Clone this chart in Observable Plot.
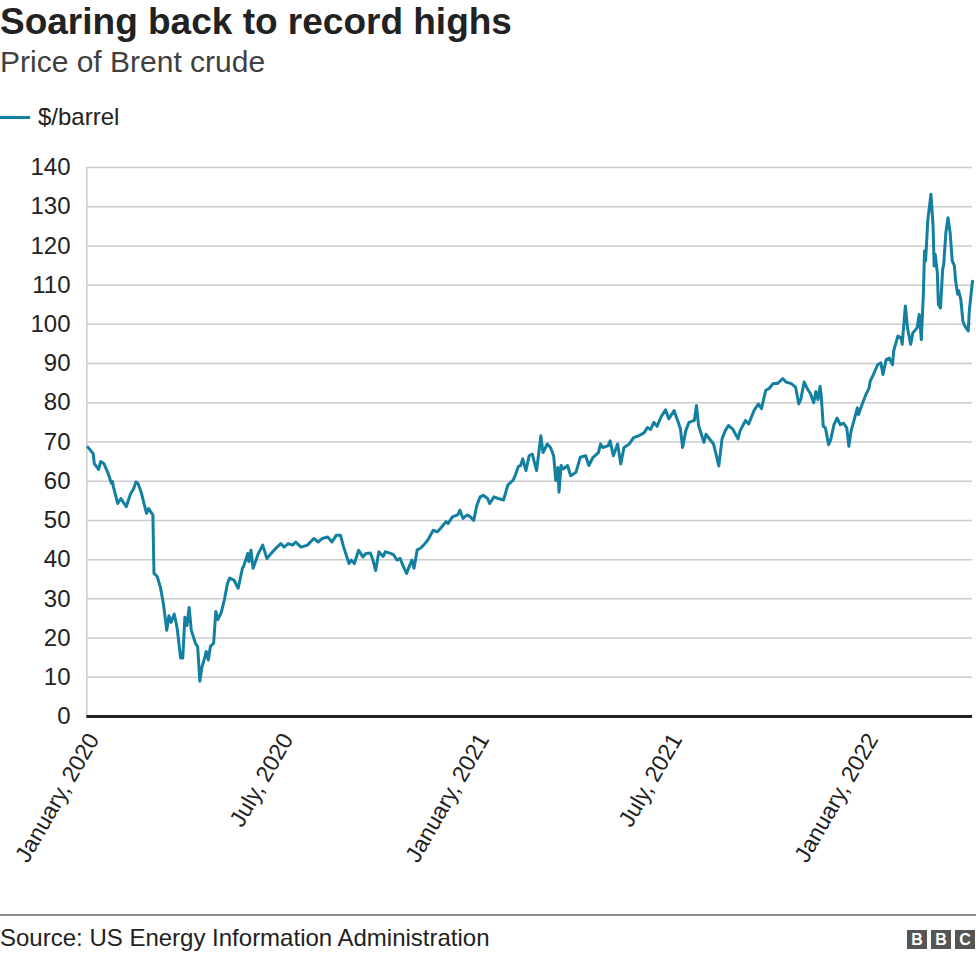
<!DOCTYPE html>
<html>
<head>
<meta charset="utf-8">
<script src="https://cdn.jsdelivr.net/npm/d3@7"></script>
<script src="https://cdn.jsdelivr.net/npm/@observablehq/plot@0.6"></script>
<style>
  body { margin: 0; background: #fff; font-family: "Liberation Sans", Arial, Helvetica, sans-serif; color: #222; }
  #wrap { position: relative; width: 976px; height: 959px; overflow: hidden; background: #fff; }
  #title { position: absolute; left: 0; top: 3px; font-size: 37px; line-height: 37px; font-weight: bold; color: #222; white-space: nowrap; }
  #subtitle { position: absolute; left: 0; top: 47px; font-size: 30px; line-height: 30px; color: #404040; white-space: nowrap; }
  #legend { position: absolute; left: 0; top: 104px; font-size: 24px; line-height: 26px; color: #222; white-space: nowrap; display: flex; align-items: center; }
  #legend .sw { display: inline-block; width: 30px; height: 3px; background: #1380A1; margin-right: 8px; }
  #chart { position: absolute; left: 0; top: 140px; }
  #footer-line { position: absolute; left: 0; top: 914px; width: 976px; height: 2px; background: #8c8c8c; }
  #source { position: absolute; left: 0; top: 926px; font-size: 24px; line-height: 24px; color: #222; white-space: nowrap; }
  #bbc { position: absolute; right: 1px; top: 930px; display: flex; gap: 4px; }
  #bbc span { display: inline-block; width: 20px; height: 19px; background: #555; color: #fff; font-weight: bold; font-size: 16px; line-height: 19px; text-align: center; }
</style>
</head>
<body>
<div id="wrap">
  <div id="title">Soaring back to record highs</div>
  <div id="subtitle">Price of Brent crude</div>
  <div id="legend"><span class="sw"></span><span id="legend-label"></span></div>
  <div id="chart"></div>
  <div id="footer-line"></div>
  <div id="source">Source: US Energy Information Administration</div>
  <div id="bbc"><span>B</span><span>B</span><span>C</span></div>
</div>
<script>
const seriesName = "$/barrel";
const dates = [
"2020-01-07","2020-01-12","2020-01-13","2020-01-17","2020-01-19","2020-01-22","2020-01-26","2020-01-29","2020-01-30","2020-01-31",
"2020-02-04","2020-02-07","2020-02-12","2020-02-16","2020-02-19","2020-02-21","2020-02-23","2020-02-26","2020-02-28",
"2020-03-02","2020-03-04","2020-03-06","2020-03-08","2020-03-09","2020-03-12","2020-03-15","2020-03-17","2020-03-18","2020-03-21","2020-03-23","2020-03-25","2020-03-28","2020-03-30","2020-03-31",
"2020-04-03","2020-04-05","2020-04-07","2020-04-09","2020-04-11","2020-04-13","2020-04-15","2020-04-17","2020-04-19","2020-04-21","2020-04-23","2020-04-25","2020-04-27","2020-04-29",
"2020-05-01","2020-05-04","2020-05-06","2020-05-08","2020-05-11","2020-05-14","2020-05-17","2020-05-19","2020-05-23","2020-05-27","2020-05-31",
"2020-06-01","2020-06-05","2020-06-06","2020-06-08","2020-06-10","2020-06-15","2020-06-19","2020-06-23","2020-06-27",
"2020-07-01","2020-07-06","2020-07-09","2020-07-13","2020-07-17","2020-07-20","2020-07-25","2020-07-31",
"2020-08-06","2020-08-10","2020-08-14","2020-08-19","2020-08-23","2020-08-27","2020-08-31",
"2020-09-03","2020-09-08","2020-09-10","2020-09-13","2020-09-17","2020-09-21","2020-09-24","2020-09-28","2020-09-30",
"2020-10-03","2020-10-06","2020-10-10","2020-10-12","2020-10-17","2020-10-20","2020-10-23","2020-10-26","2020-10-29",
"2020-11-01","2020-11-04","2020-11-06","2020-11-08","2020-11-11","2020-11-14","2020-11-17","2020-11-21","2020-11-26","2020-11-30",
"2020-12-03","2020-12-08","2020-12-10","2020-12-14","2020-12-19","2020-12-21","2020-12-24","2020-12-28","2020-12-31",
"2021-01-03","2021-01-06","2021-01-09","2021-01-12","2021-01-16","2021-01-18","2021-01-22","2021-01-26","2021-01-31",
"2021-02-04","2021-02-09","2021-02-11","2021-02-14","2021-02-16","2021-02-18","2021-02-21","2021-02-24","2021-02-27",
"2021-03-03","2021-03-07","2021-03-09","2021-03-13","2021-03-16","2021-03-19","2021-03-21","2021-03-23","2021-03-24","2021-03-26","2021-03-28",
"2021-04-01","2021-04-04","2021-04-09","2021-04-13","2021-04-18","2021-04-21","2021-04-25","2021-04-30",
"2021-05-02","2021-05-04","2021-05-09","2021-05-11","2021-05-14","2021-05-18","2021-05-21","2021-05-24","2021-05-29",
"2021-06-02","2021-06-07","2021-06-12","2021-06-15","2021-06-18","2021-06-21","2021-06-24","2021-06-28",
"2021-07-02","2021-07-05","2021-07-10","2021-07-14","2021-07-16","2021-07-18","2021-07-21","2021-07-24","2021-07-29","2021-07-31",
"2021-08-02","2021-08-04","2021-08-07","2021-08-09","2021-08-11","2021-08-16","2021-08-21","2021-08-24","2021-08-27","2021-08-30",
"2021-09-03","2021-09-08","2021-09-10","2021-09-15","2021-09-18","2021-09-23","2021-09-27","2021-09-30",
"2021-10-04","2021-10-07","2021-10-11","2021-10-15","2021-10-20","2021-10-23","2021-10-28",
"2021-11-01","2021-11-04","2021-11-06","2021-11-09","2021-11-12","2021-11-15","2021-11-18","2021-11-20","2021-11-22","2021-11-24","2021-11-25","2021-11-27","2021-11-29",
"2021-12-02","2021-12-04","2021-12-07","2021-12-10","2021-12-13","2021-12-16","2021-12-19","2021-12-21","2021-12-23","2021-12-26","2021-12-29","2021-12-30",
"2022-01-03","2022-01-06","2022-01-09","2022-01-10","2022-01-13","2022-01-17","2022-01-20","2022-01-22","2022-01-25","2022-01-28","2022-01-31",
"2022-02-01","2022-02-05","2022-02-08","2022-02-09","2022-02-12","2022-02-14","2022-02-17","2022-02-19","2022-02-23","2022-02-25","2022-02-27",
"2022-03-01","2022-03-02","2022-03-03","2022-03-05","2022-03-08","2022-03-10","2022-03-11","2022-03-12","2022-03-14","2022-03-15","2022-03-17","2022-03-19","2022-03-20","2022-03-22","2022-03-24","2022-03-26","2022-03-28","2022-03-30","2022-03-31",
"2022-04-02","2022-04-03","2022-04-05","2022-04-07","2022-04-09","2022-04-12","2022-04-13","2022-04-15","2022-04-16"
];
const prices = [
68.7,67.0,64.5,63.0,65.0,64.5,62.0,59.5,60.0,58.5,
54.3,55.6,53.5,56.8,58.1,59.8,59.4,57.2,55.0,
51.8,53.0,52.2,51.4,36.5,35.7,33.0,30.0,28.4,22.0,25.7,24.0,26.1,23.6,22.0,
14.9,14.9,25.3,23.2,27.8,22.0,20.3,18.6,17.8,9.0,12.6,14.4,16.6,14.4,
17.9,18.7,26.8,24.7,26.4,29.7,34.0,35.3,34.8,32.7,37.8,
38.2,41.6,39.5,42.4,37.8,41.6,43.7,40.3,41.6,
42.8,44.1,43.2,44.1,43.7,44.5,43.2,43.7,
45.4,44.5,45.4,45.8,44.5,46.2,46.2,
43.2,39.0,39.9,39.0,42.4,40.7,41.6,41.7,40.3,
37.2,42.0,40.8,42.0,41.6,41.2,39.9,40.3,38.2,
36.5,38.6,39.9,37.8,42.5,42.9,43.7,45.0,47.5,47.1,
48.0,49.7,49.2,50.9,51.4,52.6,50.5,51.4,50.9,
50.0,53.9,56.0,56.4,55.6,54.3,56.0,55.6,55.2,
59.0,60.3,61.5,63.8,64.0,65.7,62.7,66.5,66.9,
62.7,71.6,67.3,69.5,68.6,66.5,60.2,63.5,57.2,64.0,63.1,
64.0,61.4,62.3,66.1,66.5,64.0,66.1,67.3,
69.5,68.6,69.0,70.3,66.5,69.5,64.4,68.6,69.5,
71.1,71.6,72.4,73.7,73.2,75.0,74.0,76.5,
78.2,75.9,78.0,75.0,73.3,68.6,72.9,75.0,75.5,79.3,
74.2,72.5,69.9,72.0,71.2,69.5,63.9,70.8,72.9,74.2,
73.3,70.8,72.9,75.5,74.6,78.0,79.7,78.5,
83.2,83.6,84.9,84.9,86.2,85.3,84.9,
84.0,79.7,81.0,85.3,83.6,82.3,80.0,82.9,80.8,84.2,82.0,74.0,73.6,
69.3,70.6,74.4,76.1,74.4,74.8,73.6,68.9,72.7,75.7,78.7,77.0,
80.0,82.1,83.8,85.5,87.2,89.7,90.2,87.2,91.0,91.4,89.7,
93.2,97.0,96.6,94.9,104.7,99.1,94.9,97.8,99.1,102.5,96.1,
108.5,118.7,116.2,126.4,133.2,125.1,114.9,117.9,113.2,105.1,104.2,114.0,115.3,123.4,127.2,123.4,116.2,115.0,111.5,
107.7,108.6,106.4,100.8,99.5,98.3,103.4,108.6,111.0
];
const yTicks = [0,10,20,30,40,50,60,70,80,90,100,110,120,130,140];
const xTickDates = ["2020-01-01","2020-07-01","2021-01-01","2021-07-01","2022-01-01"];
const xTickLabels = ["January, 2020","July, 2020","January, 2021","July, 2021","January, 2022"];

document.getElementById("legend-label").textContent = seriesName;

const data = dates.map((d, i) => ({date: new Date(d), price: prices[i]}));
const tickDates = xTickDates.map(d => new Date(d));
const startDate = new Date("2020-01-06");
const endDate = new Date("2022-04-16");

const chart = Plot.plot({
  width: 976,
  height: 760,
  marginLeft: 81,
  marginRight: 4,
  marginTop: 27,
  marginBottom: 184,
  x: {type: "utc", domain: [new Date("2020-01-01"), endDate]},
  y: {domain: [0, 140]},
  style: {fontFamily: "'Liberation Sans', Arial, Helvetica, sans-serif", fontSize: "24px", color: "#222", background: "#fff", overflow: "visible"},
  marks: [
    Plot.ruleY(yTicks.filter(v => v > 0), {x1: startDate, x2: endDate, stroke: "#cccccc", strokeWidth: 1.5}),
    Plot.ruleX([startDate], {y1: 0, y2: 140, stroke: "#cccccc", strokeWidth: 1.5}),
    Plot.axisY({ticks: yTicks, tickSize: 0, tickPadding: 11, label: null, fontSize: 24}),
    Plot.axisX({
      ticks: tickDates,
      tickFormat: d => xTickLabels[tickDates.findIndex(t => +t === +d)],
      tickRotate: -60, tickSize: 0, tickPadding: 19, label: null, fontSize: 23, dx: 12
    }),
    Plot.lineY(data, {x: "date", y: "price", stroke: "#1380A1", strokeWidth: 3, strokeLinejoin: "round"}),
    Plot.ruleY([0], {x1: startDate, x2: endDate, stroke: "#222", strokeWidth: 3})
  ]
});
document.getElementById("chart").appendChild(chart);
</script>
</body>
</html>
